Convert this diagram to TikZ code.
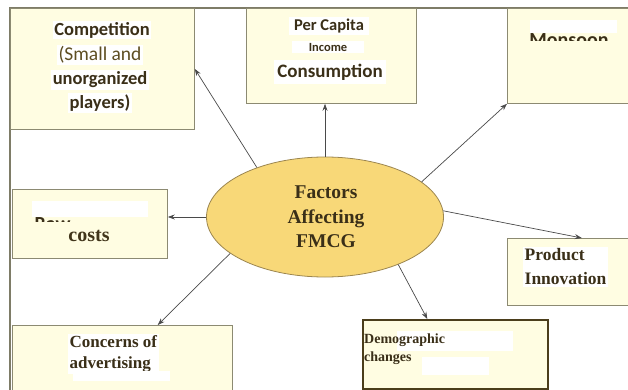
\documentclass[tikz,border=0pt]{standalone}
\usepackage{fontspec}
\setmainfont{Liberation Serif}
\newfontfamily\calfont{Carlito}
\usetikzlibrary{shapes.geometric,arrows.meta,calc}
\definecolor{boxfill}{HTML}{FFFDE2}
\definecolor{boxline}{HTML}{8C8A72}
\definecolor{ellfill}{HTML}{F8D878}
\definecolor{ellline}{HTML}{9C8650}
\definecolor{txt}{HTML}{3A2F18}
\definecolor{olive}{HTML}{5E4E22}
\definecolor{arr}{HTML}{4A4A4A}
\tikzset{
  box/.style={draw=boxline, fill=boxfill, line width=0.8pt, anchor=north west, inner sep=0pt},
  lbl/.style={fill=white, inner sep=1.5pt, text=txt, font=\bfseries},
  conn/.style={draw=arr, line width=0.7pt, -{Stealth[length=7pt,width=5pt]}},
}
\begin{document}
\begin{tikzpicture}[x=1pt,y=-1pt]
\useasboundingbox (0,0) rectangle (628,390);
\clip (0,0) rectangle (628,390);
\fill[white] (0,0) rectangle (628,390);
% outer frame
\draw[boxline!90!black, line width=1.1pt] (10,392) -- (10,8) -- (630,8);
% boxes
\node[box, minimum width=184pt, minimum height=121pt] (comp) at (10,8) {};
\node[box, minimum width=170pt, minimum height=95pt] (pc) at (246,8) {};
\node[box, minimum width=140pt, minimum height=95pt] (mon) at (507,8) {};
\node[box, minimum width=155pt, minimum height=69pt] (raw) at (12,189) {};
\node[box, minimum width=143pt, minimum height=67pt] (prod) at (507,238) {};
\node[box, minimum width=220pt, minimum height=80pt] (conc) at (12,325) {};
\node[box, draw=olive!80!black, line width=1.6pt, minimum width=185pt, minimum height=69pt] (demo) at (362,319) {};
% ellipse
\node[ellipse, draw=ellline, fill=ellfill, line width=0.8pt, minimum width=237pt, minimum height=120pt] (fm) at (325,217) {};
\node[text=txt, font=\bfseries\fontsize{19.5}{24.5}\selectfont, align=center] (fmt) at (326,217) {Factors\\Affecting\\FMCG};
% Competition text
\node[lbl, font=\calfont\bfseries\fontsize{18.5}{20}\selectfont] (c1) at (102,30) {Competition};
\node[lbl, text=olive, font=\calfont\fontsize{19.5}{20}\selectfont] (c2) at (100,55) {(Small and};
\node[lbl, font=\calfont\bfseries\fontsize{18.5}{20}\selectfont] (c3) at (100,80) {unorganized};
\node[lbl, font=\calfont\bfseries\fontsize{18.5}{20}\selectfont] (c4) at (100,103) {players)};
% Per capita text
\node[lbl, font=\calfont\bfseries\fontsize{16.5}{18}\selectfont, minimum width=80pt] (p1) at (329,26) {Per Capita};
\node[lbl, font=\calfont\bfseries\fontsize{12.5}{14}\selectfont, minimum width=72pt] (p2) at (328,47) {Income};
\node[lbl, font=\calfont\bfseries\fontsize{19}{21}\selectfont, minimum width=112pt, minimum height=24pt] (p3) at (330,72) {Consumption};
% Monsoon text (partly hidden)
\begin{scope}
\clip (507,8) rectangle (628,41);
\node[text=txt, font=\calfont\bfseries\fontsize{20}{22}\selectfont, anchor=base] (mt) at (569,47) {Monsoon};
\end{scope}
\fill[white] (530,20) rectangle (617,33);
% Raw costs text (partly hidden)
\begin{scope}
\clip (12,189) rectangle (167,221);
\node[text=txt, font=\calfont\bfseries\fontsize{20}{22}\selectfont, anchor=base west] (rt) at (31,230) {Raw};
\end{scope}
\fill[white] (32,201) rectangle (148,217);
\node[text=txt!80!olive, font=\bfseries\fontsize{20}{22}\selectfont] (r2) at (89,236) {costs};
% Product text
\node[lbl, anchor=west, font=\bfseries\fontsize{17.5}{24}\selectfont, align=left] (pr) at (523,267) {Product\\Innovation};
% Concerns text
\node[lbl, anchor=west, font=\bfseries\fontsize{17}{21.5}\selectfont, align=left] (co) at (68,354) {Concerns of\\advertising};
\fill[white] (73,371) rectangle (170,381);
% Demographic text
\fill[white] (397,331) rectangle (513,351);
\fill[white] (422,357) rectangle (489,375);
\node[text=txt, anchor=west, inner sep=0pt, font=\bfseries\fontsize{14}{17.5}\selectfont, align=left] (de) at (364,349) {Demographic\\changes};
% connectors
\draw[conn] (fm.144) -- (comp.east);
\draw[conn] (fm.north) -- (fm.north |- pc.south);
\draw[conn] (fm.20) -- (mon.south west);
\draw[conn] (fm.west) -- (fm.west -| raw.east);
\draw[conn] (fm.3) -- ($(prod.north west)!0.52!(prod.north east)$);
\draw[conn] (fm.201) -- ($(conc.north west)!0.66!(conc.north east)$);
\draw[conn] (fm.327) -- ($(demo.north west)!0.35!(demo.north east)$);
\end{tikzpicture}
\end{document}
